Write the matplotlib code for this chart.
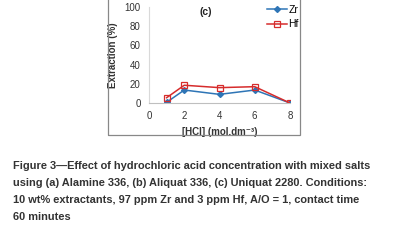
import matplotlib
matplotlib.use('Agg')
import matplotlib.pyplot as plt
from matplotlib.patches import Rectangle

# Data
hcl = [1, 2, 4, 6, 8]
zr = [0.7, 13.5, 9, 13.5, 0]
hf = [5.5, 18.5, 16, 17, 0]

caption = ("Figure 3\u2014Effect of hydrochloric acid concentration with mixed salts\n"
           "using (a) Alamine 336, (b) Aliquat 336, (c) Uniquat 2280. Conditions:\n"
           "10 wt% extractants, 97 ppm Zr and 3 ppm Hf, A/O = 1, contact time\n"
           "60 minutes")

W, H = 399, 243
fig = plt.figure(figsize=(W / 100, H / 100), dpi=100)
plt.rcParams['font.family'] = ['Liberation Sans', 'DejaVu Sans']

# outer frame around the panel (top is cut off)
fig.patches.append(Rectangle((108 / W, 1 - 135 / H), (300 - 108) / W, 0.6,
                             transform=fig.transFigure, fill=False,
                             edgecolor='#888888', linewidth=0.9))

ax = fig.add_axes([149 / W, 1 - 103 / H, (290 - 149) / W, (103 - 7) / H])
ax.plot(hcl, zr, color='#2E75B6', marker='D', markersize=3, linewidth=1.1, label='Zr')
ax.plot(hcl, hf, color='#D62C2C', marker='s', markersize=5, markerfacecolor='none',
        markeredgewidth=0.9, linewidth=1.1, label='Hf')

ax.set_xlim(0, 8)
ax.set_ylim(0, 100)
ax.set_xticks([0, 2, 4, 6, 8])
ax.set_yticks([0, 20, 40, 60, 80, 100])
ax.tick_params(length=0, labelsize=7, colors='#333333', pad=6)
for s in ['top', 'right']:
    ax.spines[s].set_visible(False)
ax.spines['left'].set_color('#d9d9d9')
ax.spines['bottom'].set_color('#bfbfbf')

ax.set_ylabel('Extraction (%)', fontsize=7, fontweight='bold', color='#333333', labelpad=5)
ax.set_xlabel('[HCl] (mol.dm\u207b\u00b3)', fontsize=7, fontweight='bold', color='#333333', labelpad=4)
ax.text(0.4, 0.95, '(c)', transform=ax.transAxes, ha='center', va='center',
        fontsize=7.5, fontweight='bold', color='#222222')

ax.legend(loc='upper right', bbox_to_anchor=(1.1, 1.08), frameon=False, fontsize=7.5,
          handlelength=2, handletextpad=0.1, labelspacing=0.45, borderpad=0)

fig.text(13 / W, 1 - 161 / H, caption, ha='left', va='top', fontsize=7.95,
         fontweight='bold', color='#333333', linespacing=1.87)

fig.savefig('out.png', dpi=100)
